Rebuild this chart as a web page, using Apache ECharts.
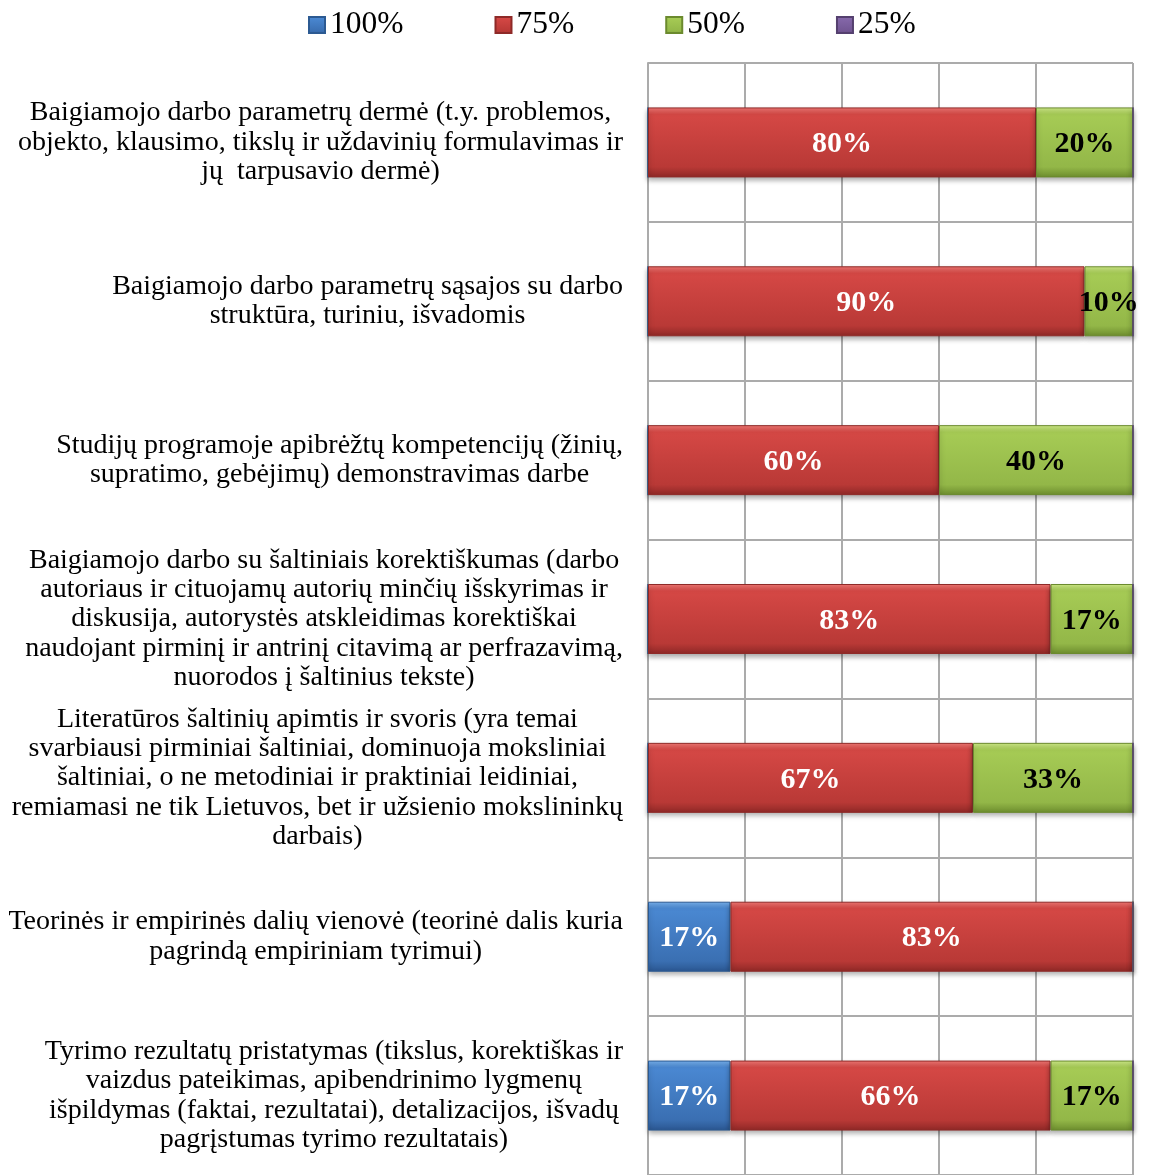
<!DOCTYPE html>
<html>
<head>
<meta charset="utf-8">
<script src="https://cdn.jsdelivr.net/npm/echarts@6/dist/echarts.min.js"></script>
<style>
  html, body { margin: 0; padding: 0; background: #fff; }
  #chart { width: 1157px; height: 1175px; }
</style>
</head>
<body>
<div id="chart"></div>
<script>
// kategorijos (iš viršaus į apačią)
const categories = [
  'Baigiamojo darbo parametrų dermė (t.y. problemos,\nobjekto, klausimo, tikslų ir uždavinių formulavimas ir\njų  tarpusavio dermė)',
  'Baigiamojo darbo parametrų sąsajos su darbo\nstruktūra, turiniu, išvadomis',
  'Studijų programoje apibrėžtų kompetencijų (žinių,\nsupratimo, gebėjimų) demonstravimas darbe',
  'Baigiamojo darbo su šaltiniais korektiškumas (darbo\nautoriaus ir cituojamų autorių minčių išskyrimas ir\ndiskusija, autorystės atskleidimas korektiškai\nnaudojant pirminį ir antrinį citavimą ar perfrazavimą,\nnuorodos į šaltinius tekste)',
  'Literatūros šaltinių apimtis ir svoris (yra temai\nsvarbiausi pirminiai šaltiniai, dominuoja moksliniai\nšaltiniai, o ne metodiniai ir praktiniai leidiniai,\nremiamasi ne tik Lietuvos, bet ir užsienio mokslininkų\ndarbais)',
  'Teorinės ir empirinės dalių vienovė (teorinė dalis kuria\npagrindą empiriniam tyrimui)',
  'Tyrimo rezultatų pristatymas (tikslus, korektiškas ir\nvaizdus pateikimas, apibendrinimo lygmenų\nišpildymas (faktai, rezultatai), detalizacijos, išvadų\npagrįstumas tyrimo rezultatais)'
];

const seriesNames = ['100%', '75%', '50%', '25%'];
const values100 = [0, 0, 0, 0, 0, 17, 17];
const values75 = [80, 90, 60, 83, 67, 83, 66];
const values50 = [20, 10, 40, 17, 33, 0, 17];
const values25 = [0, 0, 0, 0, 0, 0, 0];

const serif = '"Liberation Serif", "Times New Roman", serif';

// Excel stiliaus nuožulnūs (bevel) gradientai
function bevel(light, main, dark, edge) {
  return new echarts.graphic.LinearGradient(0, 0, 0, 1, [
    { offset: 0, color: light },
    { offset: 0.1, color: main },
    { offset: 0.85, color: dark },
    { offset: 1, color: edge }
  ]);
}
const colors = [
  { fill: bevel('#7ab4f0', '#4a88d2', '#3a6fb2', '#2a5690'), border: '#2c5a92', text: '#fff' },
  { fill: bevel('#f47a76', '#d54845', '#b93936', '#8e2826'), border: '#8e2a28', text: '#fff' },
  { fill: bevel('#d2ee8a', '#a6cb55', '#93b748', '#6d8d2e'), border: '#6b8a2e', text: '#000' },
  { fill: bevel('#b39ad6', '#8568aa', '#725693', '#55406f'), border: '#55406f', text: '#fff' }
];

const allValues = [values100, values75, values50, values25];

const chart = echarts.init(document.getElementById('chart'));

const option = {
  animation: false,
  legend: {
    data: seriesNames,
    left: 303,
    top: 4,
    itemGap: 91,
    itemWidth: 16,
    itemHeight: 16,
    icon: 'rect',
    textStyle: { fontFamily: serif, fontSize: 31.5, color: '#000' }
  },
  grid: {
    left: 648,
    right: 24,
    top: 63,
    height: 1113
  },
  xAxis: {
    type: 'value',
    min: 0,
    max: 100,
    interval: 20,
    axisLabel: { show: false },
    axisTick: { show: false },
    axisLine: { show: false },
    splitLine: { show: true, lineStyle: { color: '#ababab', width: 2 } }
  },
  yAxis: {
    type: 'category',
    inverse: true,
    data: categories,
    axisTick: { show: false },
    axisLine: { show: true, lineStyle: { color: '#ababab', width: 2 } },
    splitLine: { show: true, lineStyle: { color: '#ababab', width: 2 } },
    axisLabel: {
      margin: 25,
      align: 'right',
      formatter: function (v) {
        return v.split('\n').map(function (l) { return '{a|' + l + '}'; }).join('\n');
      },
      rich: {
        a: { fontFamily: serif, fontSize: 28, lineHeight: 29.3, align: 'center', color: '#000' }
      }
    }
  },
  series: seriesNames.map(function (name, i) {
    return {
      name: name,
      type: 'bar',
      stack: 'total',
      barWidth: 70,
      data: allValues[i],
      itemStyle: {
        color: colors[i].fill,
        borderColor: colors[i].border,
        borderWidth: 1,
        shadowColor: 'rgba(0,0,0,0.35)',
        shadowBlur: 5,
        shadowOffsetY: 3
      },
      label: {
        show: true,
        position: 'inside',
        offset: [0, 2],
        fontFamily: serif,
        fontWeight: 'bold',
        fontSize: 30,
        color: colors[i].text,
        formatter: function (p) { return p.value ? p.value + '%' : ''; }
      }
    };
  })
};

chart.setOption(option);
</script>
</body>
</html>
